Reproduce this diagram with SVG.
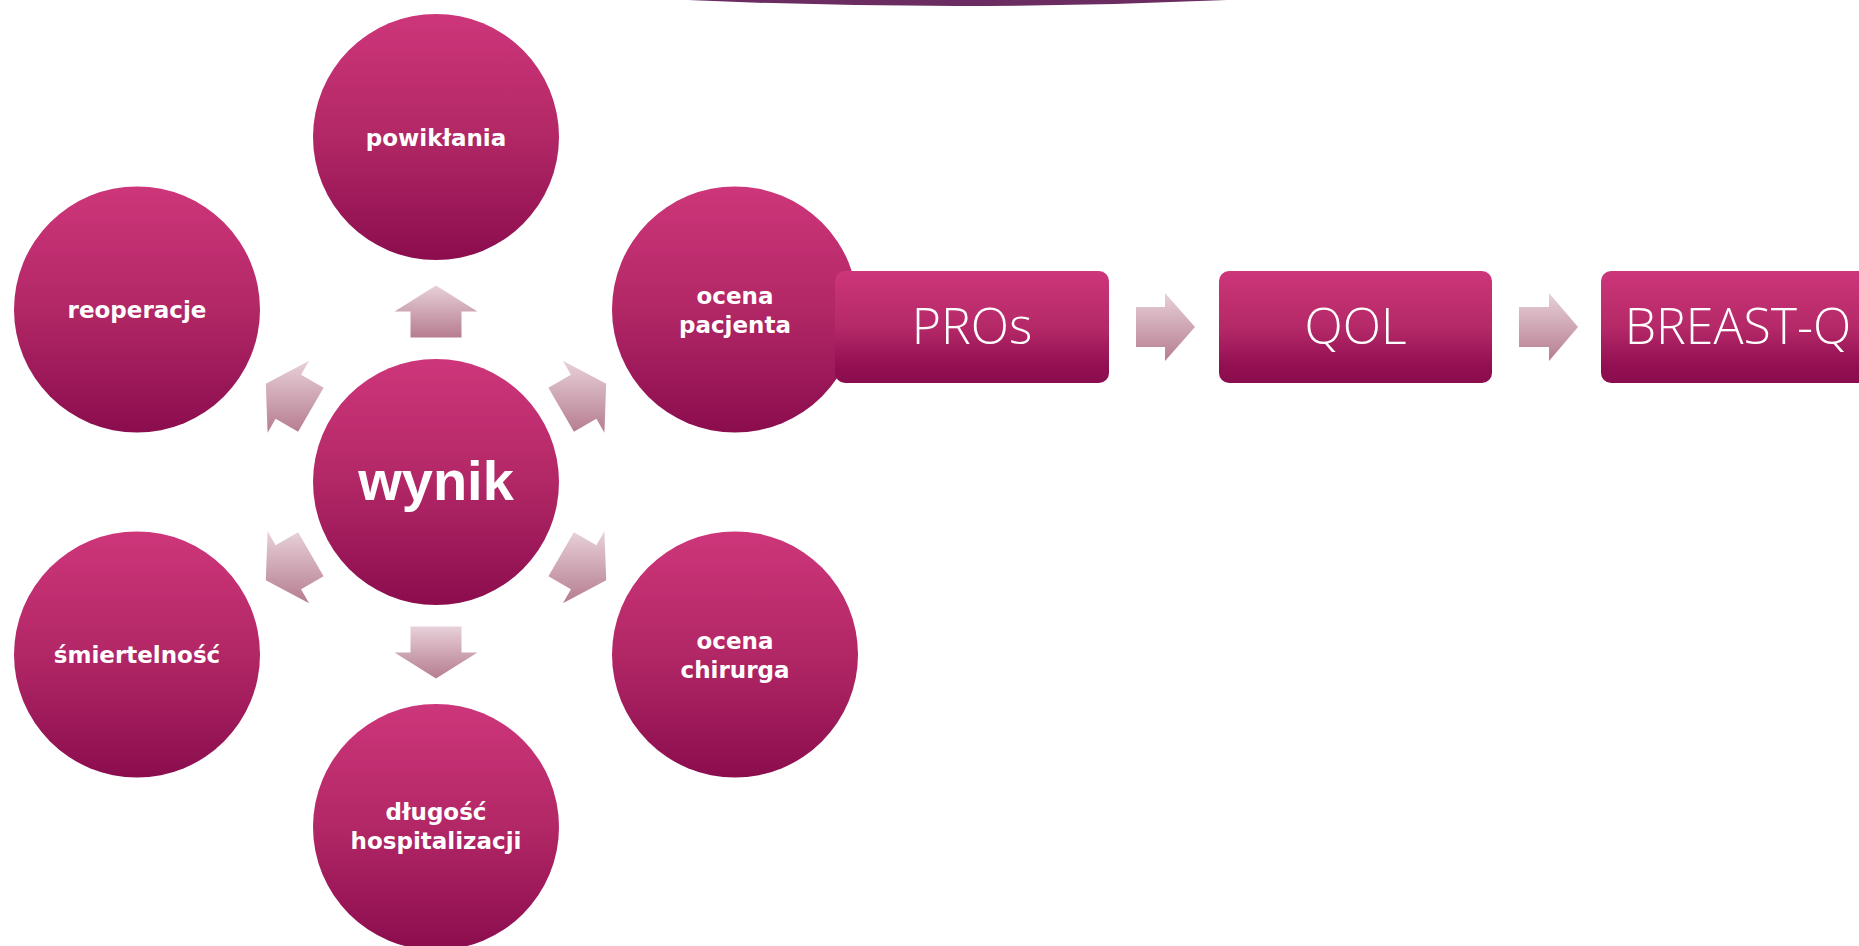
<svg xmlns="http://www.w3.org/2000/svg" width="1859" height="946" viewBox="0 0 1859 946">
<defs>
<linearGradient id="gNode" x1="0" y1="0" x2="0" y2="1">
<stop offset="0" stop-color="#cd367a"/>
<stop offset="0.5" stop-color="#b22766"/>
<stop offset="1" stop-color="#8b0d4e"/>
</linearGradient>
<linearGradient id="gBox" x1="0" y1="0" x2="0" y2="1">
<stop offset="0" stop-color="#cd367a"/>
<stop offset="0.5" stop-color="#b52968"/>
<stop offset="0.85" stop-color="#920f52"/>
<stop offset="1" stop-color="#8b0d4e"/>
</linearGradient>
<linearGradient id="gArrow" x1="0" y1="0" x2="0" y2="1">
<stop offset="0" stop-color="#e7d0d9"/>
<stop offset="1" stop-color="#b67d8f"/>
</linearGradient>
</defs>
<style>
.circ{fill:url(#gNode)}
.box{fill:url(#gBox)}
.arr{fill:url(#gArrow)}
.lbl{font-family:"DejaVu Sans","Liberation Sans",sans-serif;font-weight:bold;font-size:23px;fill:#ffffff;text-anchor:middle}
.big{font-family:"Liberation Sans","DejaVu Sans",sans-serif;font-weight:bold;font-size:56px;fill:#ffffff;text-anchor:middle}
.btxt{font-family:"Open Sans","Lato","Liberation Sans",sans-serif;font-weight:300;font-size:50px;fill:#ffffff;text-anchor:middle}
</style>
<rect width="1859" height="946" fill="#ffffff"/>
<path d="M 688 0 Q 957 12 1227 0 Z" fill="#6b2c61"/>
<g id="connectors">
<polygon class="arr" points="436,285.5 477.5,311.5 461.5,311.5 461.5,337.5 410.5,337.5 410.5,311.5 394.5,311.5"/>
<polygon class="arr" points="436,678.5 477.5,652.5 461.5,652.5 461.5,626.5 410.5,626.5 410.5,652.5 394.5,652.5"/>
<polygon class="arr" points="606.2,383.8 604.4,432.7 596.4,418.8 573.9,431.8 548.4,387.7 570.9,374.7 562.9,360.8"/>
<polygon class="arr" points="265.8,383.8 267.6,432.7 275.6,418.8 298.1,431.8 323.6,387.7 301.1,374.7 309.1,360.8"/>
<polygon class="arr" points="606.2,580.2 604.4,531.3 596.4,545.2 573.9,532.2 548.4,576.3 570.9,589.3 562.9,603.2"/>
<polygon class="arr" points="265.8,580.2 267.6,531.3 275.6,545.2 298.1,532.2 323.6,576.3 301.1,589.3 309.1,603.2"/>
<polygon class="arr" points="1136,307 1165,307 1165,293 1195,327 1165,361 1165,347 1136,347"/>
<polygon class="arr" points="1519,307 1549,307 1549,293 1578,327 1549,361 1549,347 1519,347"/>
</g>
<g id="node-wynik">
<circle class="circ" cx="436" cy="482" r="123"/>
<text class="big" x="436" y="500">wynik</text>
</g>
<g id="node-powiklania">
<circle class="circ" cx="436" cy="137" r="123"/>
<text class="lbl" x="436" y="146">powikłania</text>
</g>
<g id="node-reoperacje">
<circle class="circ" cx="137" cy="309.5" r="123"/>
<text class="lbl" x="137" y="318">reoperacje</text>
</g>
<g id="node-smiertelnosc">
<circle class="circ" cx="137" cy="654.5" r="123"/>
<text class="lbl" x="137" y="663">śmiertelność</text>
</g>
<g id="node-dlugosc">
<circle class="circ" cx="436" cy="827" r="123"/>
<text class="lbl" x="436" y="820">długość</text>
<text class="lbl" x="436" y="849">hospitalizacji</text>
</g>
<g id="node-ocena-chirurga">
<circle class="circ" cx="735" cy="654.5" r="123"/>
<text class="lbl" x="735" y="649">ocena</text>
<text class="lbl" x="735" y="678">chirurga</text>
</g>
<g id="node-ocena-pacjenta">
<circle class="circ" cx="735" cy="309.5" r="123"/>
<text class="lbl" x="735" y="304">ocena</text>
<text class="lbl" x="735" y="333">pacjenta</text>
</g>
<g id="node-pros">
<rect class="box" x="835" y="271" width="274" height="112" rx="10"/>
<text class="btxt" x="972" y="344">PROs</text>
</g>
<g id="node-qol">
<rect class="box" x="1219" y="271" width="273" height="112" rx="10"/>
<text class="btxt" x="1355.5" y="344">QOL</text>
</g>
<g id="node-breastq">
<rect class="box" x="1601" y="271" width="273" height="112" rx="10"/>
<text class="btxt" x="1738" y="344">BREAST-Q</text>
</g>
</svg>
